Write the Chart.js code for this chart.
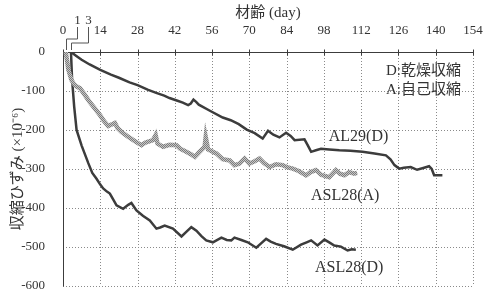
<!DOCTYPE html>
<html>
<head>
<meta charset="utf-8">
<script src="https://cdn.jsdelivr.net/npm/chart.js@4.4.1/dist/chart.umd.min.js"></script>
<style>
  html, body { margin: 0; padding: 0; background: #fff; }
  #wrap { width: 483px; height: 291px; position: relative; }
</style>
</head>
<body>
<div id="wrap"><canvas id="shrinkChart"></canvas></div>
<script>
// axis ticks
const dayTicks = [0, 14, 28, 42, 56, 70, 84, 98, 112, 126, 140, 154];
const strainTicks = [0, -100, -200, -300, -400, -500, -600];
const markDays = [1, 3];

// AL29(D) drying shrinkage
const al29Days = [3, 5, 7, 10, 14, 18, 21, 25, 28, 32, 35, 38, 40, 43, 45, 47, 48, 49, 50, 51, 55, 60, 63, 66, 69, 72, 75, 77, 79, 81.3, 83.8, 85.5, 87, 90.7, 92, 93.2, 95, 96.9, 100, 103.8, 108, 112.5, 117, 121.3, 123, 124.5, 126.3, 128, 130.6, 133, 135, 137.5, 138.5, 139.4, 142.5];
const al29Strain = [0, -10, -20, -32, -46, -58, -66, -78, -85, -97, -105, -112, -118, -125, -130, -136, -132, -122, -128, -135, -150, -168, -175, -185, -199, -208, -222, -202, -212, -219, -207, -215, -226, -224, -240, -256, -252, -248, -250, -252, -253, -256, -260, -265, -275, -290, -299, -297, -295, -302, -298, -293, -300, -316, -316];

// ASL28(A) autogenous shrinkage
const asl28aDays = [1, 1.5, 2, 3.2, 3.9, 5, 6.4, 8, 10, 12, 13.9, 15.5, 17, 19.5, 20.5, 22, 24, 26.4, 28, 29.5, 31, 33.8, 34.8, 35.5, 37.6, 40, 42.6, 44, 46.3, 48, 49.5, 51, 53.2, 53.6, 54.5, 57.6, 60, 62.6, 64.4, 66.3, 68.2, 70, 72, 73.8, 75.5, 77.6, 80, 82.5, 84.5, 86.3, 88.5, 91.3, 93, 95, 97, 100, 102.5, 104, 105.7, 107.5, 109.4, 110.5];
const asl28aStrain = [0, -20, -45, -72, -80, -88, -93, -108, -128, -145, -162, -178, -190, -182, -195, -205, -215, -226, -233, -239, -232, -226, -213, -235, -243, -238, -239, -248, -256, -262, -269, -258, -243, -218, -250, -260, -275, -278, -290, -286, -273, -286, -280, -273, -285, -295, -288, -290, -296, -299, -305, -316, -308, -303, -315, -321, -303, -312, -316, -308, -312, -310];

// ASL28(D) drying shrinkage
const asl28dDays = [3, 3.4, 4.2, 5.1, 7, 9.5, 11, 12.6, 14, 15.1, 16.5, 17.6, 19, 20.1, 22.6, 24.5, 25.7, 27.6, 30, 32.6, 35.1, 36.5, 38.2, 41.3, 44.5, 46.5, 48.2, 50.1, 52, 53.8, 56.3, 59.5, 61.5, 63.2, 64.4, 67, 69.4, 72.6, 74.5, 76.3, 78, 80, 83, 86.3, 89.4, 91.5, 93.2, 95.6, 98.2, 100, 101.9, 104.4, 106.9, 108.5, 110];
const asl28dStrain = [0, -70, -140, -200, -240, -285, -310, -325, -340, -350, -358, -363, -380, -393, -402, -392, -387, -406, -420, -432, -453, -450, -445, -453, -473, -460, -449, -458, -472, -483, -488, -476, -482, -483, -476, -482, -488, -502, -490, -479, -486, -492, -498, -507, -494, -488, -483, -496, -481, -488, -496, -499, -509, -506, -507];

const pairs = (xs, ys) => xs.map((d, i) => ({ x: d, y: ys[i] }));

function stipple() {
    const c = document.createElement('canvas');
    c.width = 2; c.height = 2;
    const g = c.getContext('2d');
    g.fillStyle = '#c6c6c6';
    g.fillRect(0, 0, 2, 2);
    g.fillStyle = '#7c7c7c';
    g.fillRect(0, 0, 1, 1);
    g.fillRect(1, 1, 1, 1);
    return g.createPattern(c, 'repeat');
}

const serif = '"Liberation Serif", "Noto Sans CJK JP", serif';
const dark = '#3c3c3c';

// scale paddings would shrink the plot area, the reference has none
function fixScale(s, size) {
    if (s.isHorizontal()) s.height = size; else s.width = size;
    s.paddingLeft = 0;
    s.paddingRight = 0;
    s.paddingTop = 0;
    s.paddingBottom = 0;
}

// dotted grid, frame and small axis ticks, placed by the scales
const dottedGrid = {
    id: 'dottedGrid',
    beforeDatasetsDraw(chart) {
        const { ctx, chartArea: a, scales: { x, y } } = chart;
        ctx.save();
        ctx.lineWidth = 1;
        ctx.strokeStyle = '#8a8a8a';
        ctx.setLineDash([1, 2]);
        ctx.beginPath();
        x.ticks.forEach(t => {
            const px = Math.round(x.getPixelForValue(t.value)) + 0.5;
            ctx.moveTo(px, a.top);
            ctx.lineTo(px, a.bottom);
        });
        y.ticks.forEach(t => {
            const py = Math.round(y.getPixelForValue(t.value)) + 0.5;
            ctx.moveTo(a.left, py);
            ctx.lineTo(a.right, py);
        });
        ctx.stroke();

        ctx.setLineDash([]);
        ctx.strokeStyle = dark;
        ctx.beginPath();
        const top = Math.round(a.top) + 0.5;
        const left = Math.round(a.left) + 0.5;
        ctx.moveTo(left, top);
        ctx.lineTo(Math.round(a.right) + 0.5, top);
        ctx.moveTo(left, top);
        ctx.lineTo(left, Math.round(a.bottom) + 0.5);
        x.ticks.forEach(t => {
            const px = Math.round(x.getPixelForValue(t.value)) + 0.5;
            ctx.moveTo(px, top - 3);
            ctx.lineTo(px, top + 3);
        });
        ctx.stroke();
        ctx.restore();
    }
};

// text and leader lines drawn on top of the plot
const annotate = {
    id: 'annotate',
    afterDatasetsDraw(chart) {
        const { ctx, scales: { x, y } } = chart;
        ctx.save();
        ctx.fillStyle = '#333';
        ctx.textAlign = 'center';
        ctx.textBaseline = 'middle';

        ctx.font = '16px ' + serif;
        ctx.fillText('AL29(D)', x.getPixelForValue(111), y.getPixelForValue(-218));
        ctx.fillText('ASL28(A)', x.getPixelForValue(106), y.getPixelForValue(-368));
        ctx.fillText('ASL28(D)', x.getPixelForValue(107.5), y.getPixelForValue(-553));

        ctx.textAlign = 'right';
        ctx.font = '15px ' + serif;
        ctx.fillText('D:乾燥収縮', x.getPixelForValue(149.5), y.getPixelForValue(-49));
        ctx.fillText('A:自己収縮', x.getPixelForValue(149.5), y.getPixelForValue(-98));

        // "1" and "3" markers above the axis
        ctx.textAlign = 'center';
        ctx.font = '13px ' + serif;
        ctx.strokeStyle = '#555';
        ctx.lineWidth = 1;
        const top0 = y.getPixelForValue(0);
        const offsets = [10, 16];
        const elbows = [13, 9];
        markDays.forEach((d, i) => {
            const px = Math.round(x.getPixelForValue(d)) + 0.5;
            const lx = Math.round(px + offsets[i]) + 0.5;
            ctx.fillText(String(d), lx, 21);
            ctx.beginPath();
            ctx.moveTo(lx, 27);
            ctx.lineTo(lx, top0 - elbows[i]);
            ctx.lineTo(px, top0 - elbows[i]);
            ctx.lineTo(px, top0 - 2);
            ctx.stroke();
        });
        ctx.restore();
    }
};

new Chart(document.getElementById('shrinkChart'), {
    type: 'line',
    data: {
        datasets: [
            {
                label: 'ASL28(A)',
                data: pairs(asl28aDays, asl28aStrain),
                borderColor: stipple(),
                borderWidth: 4.5,
                pointRadius: 0,
                tension: 0
            },
            {
                label: 'AL29(D)',
                data: pairs(al29Days, al29Strain),
                borderColor: dark,
                borderWidth: 2.5,
                pointRadius: 0,
                tension: 0
            },
            {
                label: 'ASL28(D)',
                data: pairs(asl28dDays, asl28dStrain),
                borderColor: dark,
                borderWidth: 2.5,
                pointRadius: 0,
                tension: 0
            }
        ]
    },
    options: {
        responsive: true,
        maintainAspectRatio: false,
        animation: false,
        layout: {
            autoPadding: false,
            padding: { left: 0, right: 10, top: 0, bottom: 5 }
        },
        plugins: {
            legend: { display: false },
            tooltip: { enabled: false }
        },
        scales: {
            x: {
                type: 'linear',
                position: 'top',
                min: 0,
                max: 154,
                afterBuildTicks: s => { s.ticks = dayTicks.map(v => ({ value: v })); },
                afterFit: s => fixScale(s, 52),
                ticks: {
                    font: { family: serif, size: 13 },
                    color: '#333',
                    padding: 6,
                    maxRotation: 0
                },
                grid: { display: false },
                border: { display: false },
                title: {
                    display: true,
                    text: '材齢 (day)',
                    font: { family: serif, size: 15 },
                    color: '#333',
                    padding: { top: 4, bottom: 0 }
                }
            },
            y: {
                min: -600,
                max: 0,
                afterBuildTicks: s => { s.ticks = strainTicks.map(v => ({ value: v })); },
                afterFit: s => fixScale(s, 63),
                ticks: {
                    font: { family: serif, size: 13 },
                    color: '#333',
                    padding: 10
                },
                grid: { display: false },
                border: { display: false },
                title: {
                    display: true,
                    text: '収縮ひずみ (×10⁻⁶)',
                    font: { family: serif, size: 15 },
                    color: '#333',
                    padding: { top: 9, bottom: 0 }
                }
            }
        }
    },
    plugins: [dottedGrid, annotate]
});
</script>
</body>
</html>
